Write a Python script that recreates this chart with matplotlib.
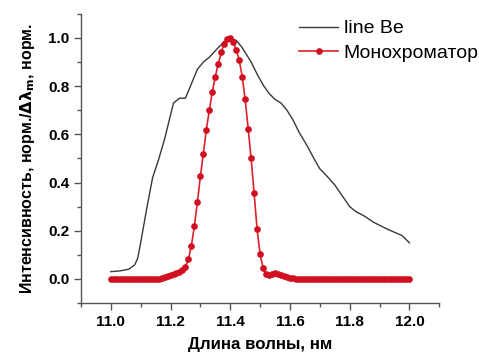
import numpy as np
import matplotlib
matplotlib.use("Agg")
import matplotlib.pyplot as plt
from matplotlib.ticker import MultipleLocator

plt.rcParams['font.family'] = ['Liberation Sans', 'DejaVu Sans']

# line Be (black)
be_x = [11.00, 11.03, 11.06, 11.08, 11.09, 11.10, 11.12, 11.14, 11.16, 11.18,
        11.20, 11.21, 11.23, 11.25, 11.27, 11.29, 11.31, 11.33, 11.36, 11.38,
        11.40, 11.42, 11.44, 11.47, 11.49, 11.51, 11.53, 11.55, 11.57, 11.59,
        11.61, 11.63, 11.66, 11.68, 11.70, 11.725, 11.75, 11.775, 11.80, 11.82,
        11.85, 11.88, 11.925, 11.975, 12.00]
be_y = [0.030, 0.033, 0.040, 0.058, 0.085, 0.150, 0.290, 0.420, 0.495, 0.580,
        0.680, 0.730, 0.750, 0.750, 0.810, 0.870, 0.900, 0.920, 0.960, 0.985,
        1.000, 0.990, 0.960, 0.900, 0.850, 0.805, 0.770, 0.745, 0.730, 0.700,
        0.660, 0.610, 0.547, 0.500, 0.457, 0.425, 0.390, 0.345, 0.300, 0.280,
        0.260, 0.235, 0.207, 0.180, 0.150]

# monochromator (red), step 0.01 nm from 11.00 to 12.00
mono_x = np.round(np.arange(11.00, 12.001, 0.01), 2)
mono_y = ([0.0] * 17 +
          [0.002, 0.008, 0.013, 0.018, 0.022, 0.026, 0.030, 0.036, 0.050, 0.082,
           0.138, 0.220, 0.318, 0.425, 0.520, 0.620, 0.700, 0.776, 0.840, 0.894,
           0.940, 0.977, 0.996, 1.000, 0.985, 0.950, 0.910, 0.840, 0.746, 0.624,
           0.500, 0.355, 0.205, 0.103, 0.045, 0.022, 0.018, 0.020, 0.023, 0.022,
           0.017, 0.011, 0.007, 0.004, 0.003] +
          [0.001] * 39)

fig = plt.figure(figsize=(4.79, 3.56), dpi=100)
ax = fig.add_axes([0.169, 0.149, 0.748, 0.812])

ax.plot(be_x, be_y, '-', color='#383838', lw=1.0, label='line Be')
ax.plot(mono_x, mono_y, '-', color='#e0202a', lw=1.2, marker='o', ms=3.8,
        mec='#d01020', mfc='#d01020', label='Монохроматор')

ax.set_xlim(10.9, 12.1)
ax.set_ylim(-0.1, 1.1)
ax.xaxis.set_minor_locator(MultipleLocator(0.1))
ax.yaxis.set_minor_locator(MultipleLocator(0.1))
ax.set_xticks([11.0, 11.2, 11.4, 11.6, 11.8, 12.0])
ax.set_yticks([0.0, 0.2, 0.4, 0.6, 0.8, 1.0])

for s in ['top', 'right']:
    ax.spines[s].set_visible(False)
for s in ['left', 'bottom']:
    ax.spines[s].set_color('#555555')
    ax.spines[s].set_linewidth(1.0)
ax.tick_params(which='major', direction='out', length=5, width=1, color='#555555',
               labelsize=11)
ax.tick_params(which='minor', direction='out', length=3, width=1, color='#555555')
for lab in ax.get_xticklabels() + ax.get_yticklabels():
    lab.set_fontweight('bold')

ax.set_xlabel('Длина волны, нм', fontsize=12.2, fontweight='bold', labelpad=6)
ax.set_ylabel('Интенсивность, норм./$\\mathbf{\\Delta\\lambda_m}$, норм.',
              fontsize=11.5, fontweight='bold', labelpad=8)

ax.legend(loc='upper left', bbox_to_anchor=(0.56, 1.04), frameon=False,
          fontsize=14, handlelength=2.0, handletextpad=0.3, labelspacing=0.35)

fig.savefig('out.png', dpi=100)
